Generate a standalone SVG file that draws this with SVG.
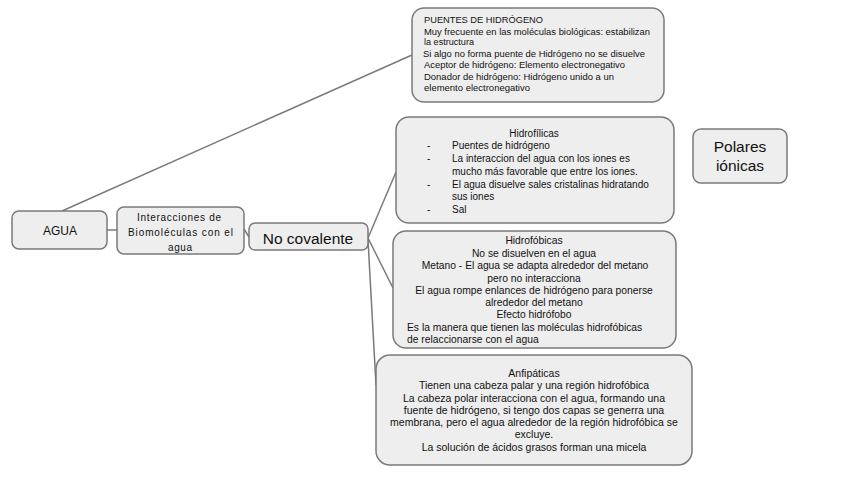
<svg xmlns="http://www.w3.org/2000/svg" width="848" height="477" viewBox="0 0 848 477">
<style>
.box{fill:#eeeeee;stroke:#7a7a7a;stroke-width:1.5}
.t{font-family:"Liberation Sans",Arial,sans-serif;fill:#111}
.p{font-size:8.5px}
.s10{font-size:10px}
.s103{font-size:10.3px}
.s105{font-size:10.5px}
.c{text-anchor:middle}
.ln{stroke:#7a7a7a;stroke-width:1.5;fill:none}
</style>
<rect width="848" height="477" fill="#ffffff"/>
<g id="connectors">
<line class="ln" x1="62" y1="211" x2="412" y2="55"/>
<line class="ln" x1="107" y1="230" x2="117" y2="230"/>
<line class="ln" x1="244" y1="229" x2="249" y2="237"/>
<line class="ln" x1="368" y1="238" x2="396" y2="172"/>
<line class="ln" x1="368" y1="238" x2="393" y2="288"/>
<line class="ln" x1="368" y1="240" x2="376" y2="385"/>
</g>
<g id="agua">
<rect class="box" x="12" y="211" width="95" height="38" rx="7"/>
<text class="t c" x="60" y="234.5" style="font-size:12px">AGUA</text>
</g>
<g id="interacciones">
<rect class="box" x="117" y="207" width="127" height="47" rx="7"/>
<text class="t c s10" x="179" y="221" textLength="84" lengthAdjust="spacing">Interacciones de</text>
<text class="t c s10" x="180.5" y="236" textLength="105" lengthAdjust="spacing">Biomoléculas con el</text>
<text class="t c s10" x="180" y="251" textLength="24" lengthAdjust="spacing">agua</text>
</g>
<g id="nocovalente">
<rect class="box" x="249" y="223" width="119" height="27" rx="6"/>
<text class="t c" x="308" y="244" style="font-size:15.5px">No covalente</text>
</g>
<g id="puentes">
<rect class="box" x="412" y="8" width="252" height="94" rx="12"/>
<text class="t p" x="424" y="23" textLength="119" lengthAdjust="spacingAndGlyphs">PUENTES DE HIDRÓGENO</text>
<text class="t p" x="424" y="35" textLength="226" lengthAdjust="spacingAndGlyphs">Muy frecuente en las moléculas biológicas: estabilizan</text>
<text class="t p" x="424" y="45" textLength="50" lengthAdjust="spacingAndGlyphs">la estructura</text>
<text class="t p" x="423" y="57" textLength="222" lengthAdjust="spacingAndGlyphs">Si algo no forma puente de Hidrógeno no se disuelve</text>
<text class="t p" x="424" y="68" textLength="201" lengthAdjust="spacingAndGlyphs">Aceptor de hidrógeno: Elemento electronegativo</text>
<text class="t p" x="424" y="80" textLength="190" lengthAdjust="spacingAndGlyphs">Donador de hidrógeno: Hidrógeno unido a un</text>
<text class="t p" x="424" y="91" textLength="106" lengthAdjust="spacingAndGlyphs">elemento electronegativo</text>
</g>
<g id="hidrofilicas">
<rect class="box" x="396" y="117" width="278" height="106" rx="13"/>
<text class="t c s10" x="534" y="137">Hidrofílicas</text>
<text class="t s10" x="427" y="149">-</text>
<text class="t s10" x="452" y="149">Puentes de hidrógeno</text>
<text class="t s10" x="427" y="162">-</text>
<text class="t s10" x="452" y="162">La interaccion del agua con los iones es</text>
<text class="t s10" x="452" y="175">mucho más favorable que entre los iones.</text>
<text class="t s10" x="427" y="188">-</text>
<text class="t s10" x="452" y="188">El agua disuelve sales cristalinas hidratando</text>
<text class="t s10" x="452" y="200">sus iones</text>
<text class="t s10" x="427" y="213">-</text>
<text class="t s10" x="452" y="213">Sal</text>
</g>
<g id="hidrofobicas">
<rect class="box" x="393" y="231" width="283" height="117" rx="13"/>
<text class="t c s103" x="534" y="244">Hidrofóbicas</text>
<text class="t c s103" x="534" y="256.5">No se disuelven en el agua</text>
<text class="t c s103" x="535" y="269">Metano - El agua se adapta alrededor del metano</text>
<text class="t c s103" x="534" y="281.5">pero no interacciona</text>
<text class="t c s103" x="534" y="294">El agua rompe enlances de hidrógeno para ponerse</text>
<text class="t c s103" x="534" y="306">alrededor del metano</text>
<text class="t c s103" x="534" y="318">Efecto hidrófobo</text>
<text class="t s103" x="407" y="330.5">Es la manera que tienen las moléculas hidrofóbicas</text>
<text class="t s103" x="407" y="343">de relaccionarse con el agua</text>
</g>
<g id="anfipaticas">
<rect class="box" x="376" y="355" width="316" height="110" rx="14"/>
<text class="t c s105" x="534" y="377">Anfipáticas</text>
<text class="t c s105" x="534" y="389">Tienen una cabeza palar y una región hidrofóbica</text>
<text class="t c s105" x="534" y="401.5">La cabeza polar interacciona con el agua, formando una</text>
<text class="t c s105" x="534" y="413.5">fuente de hidrógeno, si tengo dos capas se generra una</text>
<text class="t c s105" x="534" y="426">membrana, pero el agua alrededor de la región hidrofóbica se</text>
<text class="t c s105" x="534" y="438">excluye.</text>
<text class="t c s105" x="534" y="451">La solución de ácidos grasos forman una micela</text>
</g>
<g id="polares">
<rect class="box" x="693" y="129" width="94" height="54" rx="8"/>
<text class="t c" x="740" y="152" style="font-size:15.5px">Polares</text>
<text class="t c" x="740" y="171" style="font-size:15.5px">iónicas</text>
</g>
</svg>
